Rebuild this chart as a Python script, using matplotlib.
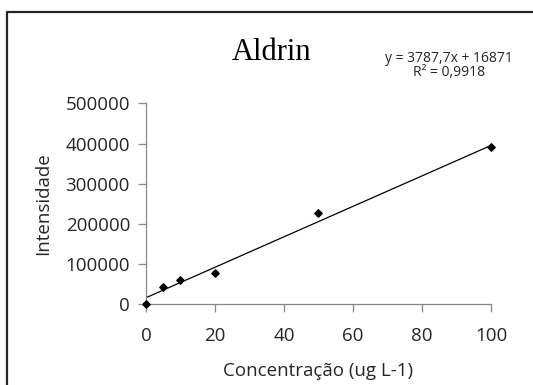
import numpy as np
import matplotlib.pyplot as plt
from matplotlib.lines import Line2D

# dados da curva de calibração
conc = [0, 5, 10, 20, 50, 100]
intens = [2000, 44300, 60200, 79100, 226900, 391800]

# equação da linha de tendência (Excel)
slope = 3787.7
intercept = 16871
eq_text = "y = 3787,7x + 16871"
r2_text = "R² = 0,9918"

xticks = [0, 20, 40, 60, 80, 100]
yticks = [0, 100000, 200000, 300000, 400000, 500000]

fig = plt.figure(figsize=(5.33, 3.85), dpi=100)
ax = fig.add_axes([0.2739, 0.2091, 0.6473, 0.5221])

# moldura externa (só esquerda e topo aparecem)
fx, fy = 7/533, 1 - 12/385
fig.lines.append(Line2D([fx, fx, 1.05], [-0.05, fy, fy], transform=fig.transFigure,
                        color="#262626", linewidth=1.6))

xs = np.array([0, 100])
ax.plot(xs, slope*xs + intercept, color="black", linewidth=0.9, zorder=2)
ax.scatter(conc, intens, marker="D", s=14, color="black", zorder=3, clip_on=False)

ax.set_xlim(0, 100)
ax.set_ylim(0, 500000)
ax.set_xticks(xticks)
ax.set_yticks(yticks)
ax.set_xticklabels([str(v) for v in xticks])
ax.set_yticklabels([str(v) for v in yticks])

for s in ["top", "right"]:
    ax.spines[s].set_visible(False)
for s in ["left", "bottom"]:
    ax.spines[s].set_color("#868686")
    ax.spines[s].set_linewidth(0.9)
ax.tick_params(direction="out", length=5.5, width=0.9, color="#868686",
               labelsize=13.5, labelcolor="#262626")
ax.tick_params(axis="y", pad=6)
ax.tick_params(axis="x", pad=11)
for lab in ax.get_xticklabels() + ax.get_yticklabels():
    lab.set_family("Open Sans")

ax.set_xlabel("Concentração (ug L-1)", fontsize=13.5, family="Open Sans",
              color="#262626", labelpad=12)
ax.set_ylabel("Intensidade", fontsize=13.5, family="Open Sans",
              color="#262626", labelpad=10)

fig.text(272/533, 1 - 53/385, "Aldrin", family="Liberation Serif",
         fontsize=22, ha="center", va="center", color="black")
fig.text(449/533, 1 - 58/385, eq_text, family="Open Sans", fontsize=10,
         ha="center", va="center", color="#262626")
fig.text(449/533, 1 - 73/385, r2_text, family="Open Sans", fontsize=10,
         ha="center", va="center", color="#262626")

fig.savefig("out.png", dpi=100)
